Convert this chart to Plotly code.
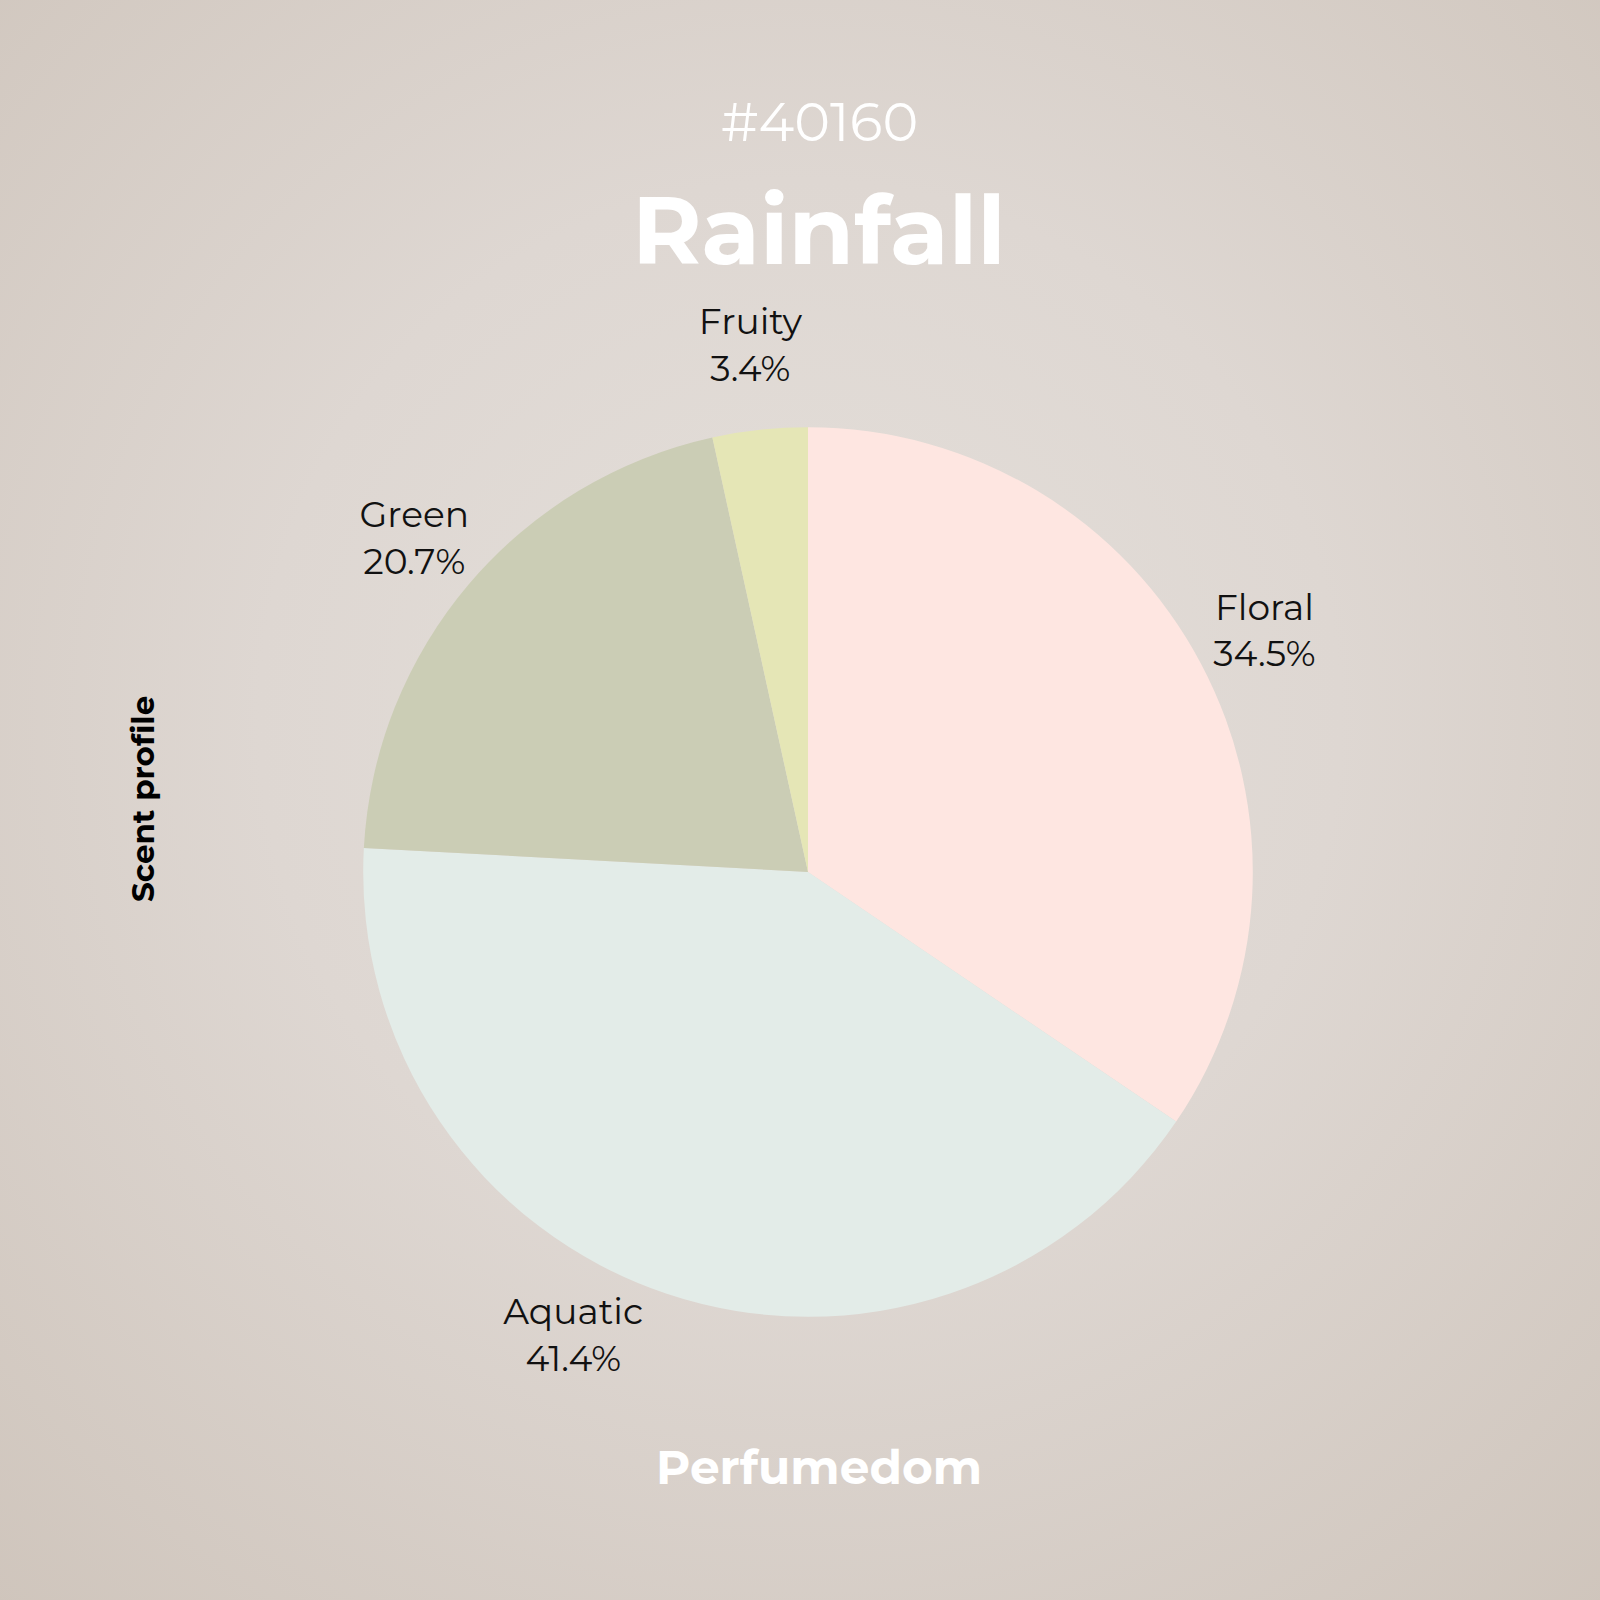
import base64
import plotly.graph_objects as go

labels = ["Floral", "Aquatic", "Green", "Fruity"]
values = [10, 12, 6, 1]
colors = ["#fee6e1", "#e3ece8", "#cbcdb5", "#e5e6b6"]

title_id = "#40160"
title_name = "Rainfall"
side_label = "Scent profile"
footer = "Perfumedom"

FONT = "Montserrat, Lato, 'Open Sans', sans-serif"

svg = (
    '<svg xmlns="http://www.w3.org/2000/svg" width="1600" height="1600">'
    '<defs><radialGradient id="g" cx="50%" cy="45%" r="75%">'
    '<stop offset="0%" stop-color="#e4dfda"/>'
    '<stop offset="45%" stop-color="#ded7d2"/>'
    '<stop offset="100%" stop-color="#cfc5bc"/>'
    '</radialGradient></defs>'
    '<rect width="1600" height="1600" fill="url(#g)"/></svg>'
)
bg_uri = "data:image/svg+xml;base64," + base64.b64encode(svg.encode()).decode()

# main pie (slices; carries the Aquatic label outside)
pie = go.Pie(
    labels=labels,
    values=values,
    sort=False,
    direction="clockwise",
    rotation=0,
    automargin=False,
    marker=dict(colors=colors, line=dict(width=0)),
    textinfo="label+percent",
    texttemplate="%{label}<br>%{percent:.1%}",
    textposition=["none", "outside", "none", "none"],
    textfont=dict(family=FONT, size=36, color="#111111"),
    showlegend=False,
    hoverinfo="skip",
    domain=dict(x=[0.12, 0.89], y=[0.177, 0.733]),
)

# transparent outer ring that carries the other labels around the pie
label_ring = go.Pie(
    labels=labels,
    values=values,
    sort=False,
    direction="clockwise",
    rotation=0,
    hole=0.757,
    automargin=False,
    marker=dict(colors=["rgba(0,0,0,0)"] * len(labels), line=dict(width=0)),
    textinfo="label+percent",
    textposition=["inside", "none", "inside", "inside"],
    insidetextorientation="horizontal",
    texttemplate="%{label}<br>%{percent:.1%}",
    textfont=dict(family=FONT, size=36, color="#111111"),
    showlegend=False,
    hoverinfo="skip",
    domain=dict(x=[0.1375, 0.8725], y=[0.0875, 0.8225]),
)

fig = go.Figure([pie, label_ring])

fig.update_layout(
    width=1600,
    height=1600,
    margin=dict(l=0, r=0, t=0, b=0, autoexpand=False),
    paper_bgcolor="#d9d1ca",
    plot_bgcolor="rgba(0,0,0,0)",
    uniformtext=dict(minsize=36, mode="show"),
    images=[dict(source=bg_uri, xref="paper", yref="paper", x=0, y=1,
                 sizex=1, sizey=1, sizing="stretch", layer="below")],
    annotations=[
        dict(text=title_id, x=0.512, y=1 - 122 / 1600, xref="paper", yref="paper",
             showarrow=False, font=dict(family=FONT, size=54, color="#ffffff"),
             xanchor="center", yanchor="middle"),
        dict(text="<b>" + title_name + "</b>", x=0.512, y=1 - 230 / 1600, xref="paper", yref="paper",
             showarrow=False, font=dict(family=FONT, size=95, color="#ffffff"),
             xanchor="center", yanchor="middle"),
        dict(text="<b>" + side_label + "</b>", x=143 / 1600, y=1 - 799 / 1600, xref="paper", yref="paper",
             showarrow=False, textangle=-90, font=dict(family=FONT, size=31, color="#000000"),
             xanchor="center", yanchor="middle"),
        dict(text="<b>" + footer + "</b>", x=0.512, y=1 - 1467 / 1600, xref="paper", yref="paper",
             showarrow=False, font=dict(family=FONT, size=47, color="#ffffff"),
             xanchor="center", yanchor="middle"),
    ],
)

fig.write_html(
    "out.html",
    config=dict(displayModeBar=False),
    post_script="document.body.style.margin='0';",
)
